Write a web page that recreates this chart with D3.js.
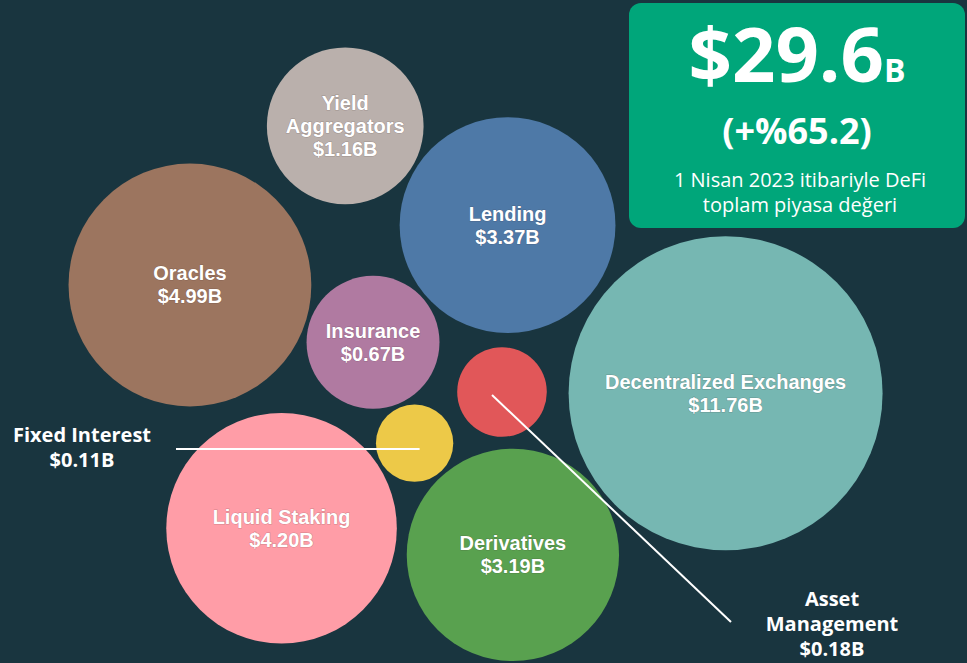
<!DOCTYPE html>
<html>
<head>
<meta charset="utf-8">
<script src="https://cdn.jsdelivr.net/npm/d3@7"></script>
<style>
  html, body { margin: 0; padding: 0; background: #19353f; }
  svg { display: block; }
</style>
</head>
<body>
<div id="chart"></div>
<script>
// categories and their market size, billions of USD
const categories = [
  "Decentralized Exchanges", "Oracles", "Liquid Staking", "Lending", "Derivatives",
  "Yield Aggregators", "Insurance", "Asset Management", "Fixed Interest"
];
const values = [11.76, 4.99, 4.20, 3.37, 3.19, 1.16, 0.67, 0.18, 0.11];
const labelLines = [
  ["Decentralized Exchanges"], ["Oracles"], ["Liquid Staking"], ["Lending"], ["Derivatives"],
  ["Yield", "Aggregators"], ["Insurance"], ["Asset", "Management"], ["Fixed Interest"]
];
// small bubbles get their label outside, with a leader line
const outside = ["Asset Management", "Fixed Interest"];

const totalValue = 29.6;
const totalChange = 65.2;
const subtitle = ["1 Nisan 2023 itibariyle DeFi", "toplam piyasa değeri"];

// layout: where each bubble is pulled to, and where outside labels sit
const anchors = [
  [722, 396], [190, 285], [282, 528], [505, 226], [518, 546],
  [347, 127], [380, 346], [502, 392], [421, 446]
];
const outsideLabelAt = { "Asset Management": [832, 606], "Fixed Interest": [82, 442] };
const palette = ["#76b7b2", "#9c755f", "#ff9da7", "#4e79a7", "#59a14f",
                 "#bab0ac", "#b07aa1", "#e15759", "#edc948"];

const width = 967, height = 663;
const svg = d3.select("#chart").append("svg").attr("width", width).attr("height", height);
svg.append("rect").attr("width", width).attr("height", height).attr("fill", "#19353f");

const r = d3.scalePow().exponent(0.3).domain([0, d3.max(values)]).range([0, 157]);

const nodes = categories.map((name, i) => ({
  name, value: values[i], lines: labelLines[i], color: palette[i],
  r: r(values[i]), ax: anchors[i][0], ay: anchors[i][1], x: anchors[i][0], y: anchors[i][1]
}));

const sim = d3.forceSimulation(nodes)
  .force("x", d3.forceX(d => d.ax).strength(0.3))
  .force("y", d3.forceY(d => d.ay).strength(0.3))
  .force("collide", d3.forceCollide(d => d.r + 2).iterations(4))
  .stop();
for (let i = 0; i < 200; i++) sim.tick();

const fmt = v => "$" + d3.format(".2f")(v) + "B";

const g = svg.append("g");
g.selectAll("circle").data(nodes).join("circle")
  .attr("cx", d => d.x).attr("cy", d => d.y).attr("r", d => d.r)
  .attr("fill", d => d.color);

const inner = g.selectAll("text.inner").data(nodes.filter(d => !outside.includes(d.name)))
  .join("text").attr("class", "inner")
  .attr("text-anchor", "middle")
  .attr("font-family", "'Liberation Sans', Arial, sans-serif")
  .attr("font-weight", "bold").attr("font-size", 20).attr("fill", "#fff")
  .attr("stroke", "rgba(60,40,40,0.25)").attr("stroke-width", 1).attr("paint-order", "stroke");
inner.each(function (d) {
  const lines = d.lines.concat([fmt(d.value)]);
  const n = lines.length;
  d3.select(this).selectAll("tspan").data(lines).join("tspan")
    .attr("x", d.x)
    .attr("y", (t, i) => d.y + 7 + (i - (n - 1) / 2) * 23)
    .text(t => t);
});

// outside labels with leader lines
const fi = nodes.find(d => d.name === "Fixed Interest");
const am = nodes.find(d => d.name === "Asset Management");
const fiAt = outsideLabelAt["Fixed Interest"], amAt = outsideLabelAt["Asset Management"];
svg.append("line").attr("x1", 176).attr("y1", fiAt[1] + 7).attr("x2", fi.x + 5).attr("y2", fiAt[1] + 7)
  .attr("stroke", "#fff").attr("stroke-width", 2);
svg.append("line").attr("x1", am.x - 10).attr("y1", am.y + 3).attr("x2", amAt[0] - 101).attr("y2", amAt[1] + 16)
  .attr("stroke", "#fff").attr("stroke-width", 2);

[fi, am].forEach(d => {
  const at = outsideLabelAt[d.name];
  const lines = d.lines.concat([fmt(d.value)]);
  svg.append("text").attr("text-anchor", "middle")
    .attr("font-family", "'Open Sans', sans-serif").attr("font-weight", "bold")
    .attr("font-size", 20).attr("fill", "#fff")
    .selectAll("tspan").data(lines).join("tspan")
    .attr("x", at[0]).attr("y", (t, i) => at[1] + i * 25).text(t => t);
});

// headline box
const box = svg.append("g");
box.append("rect").attr("x", 629).attr("y", 3).attr("width", 336).attr("height", 225)
  .attr("rx", 12).attr("fill", "#00a67a");
const cx = 797;
const big = box.append("text").attr("x", cx).attr("y", 82).attr("text-anchor", "middle")
  .attr("font-family", "'Open Sans', sans-serif").attr("font-weight", "bold").attr("fill", "#fff");
big.append("tspan").attr("font-size", 76).text("$" + totalValue);
big.append("tspan").attr("font-size", 32).text("B");
box.append("text").attr("x", cx).attr("y", 144).attr("text-anchor", "middle")
  .attr("font-family", "'Open Sans', sans-serif").attr("font-weight", "bold")
  .attr("font-size", 36).attr("fill", "#fff").text("(+%" + totalChange + ")");
box.append("text").attr("text-anchor", "middle")
  .attr("font-family", "'Open Sans', sans-serif").attr("font-size", 20).attr("fill", "#fff")
  .selectAll("tspan").data(subtitle).join("tspan")
  .attr("x", cx + 3).attr("y", (t, i) => 187 + i * 25).text(t => t);
</script>
</body>
</html>
